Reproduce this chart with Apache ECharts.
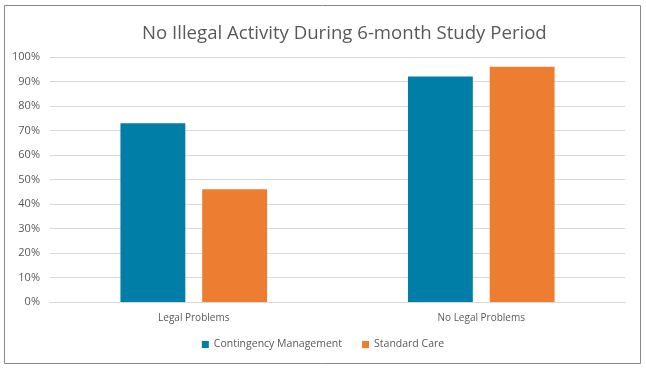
<!DOCTYPE html>
<html><head><meta charset="utf-8">
<script src="https://cdn.jsdelivr.net/npm/echarts@6/dist/echarts.min.js"></script>
<style>html,body{margin:0;padding:0;background:#fff}#c{width:646px;height:368px}</style>
</head><body><div id="c"></div>
<script>
const categories = ['Legal Problems', 'No Legal Problems'];
const contingency = [73, 92];
const standardCare = [46, 96];
const yTicks = [0, 10, 20, 30, 40, 50, 60, 70, 80, 90, 100];
const seriesNames = ['Contingency Management', 'Standard Care'];

const chart = echarts.init(document.getElementById('c'));
const font = "'Open Sans', 'Liberation Sans', sans-serif";
chart.setOption({
  animation: false,
  backgroundColor: '#fff',
  title: {
    text: 'No Illegal Activity During 6-month Study Period',
    left: 137, top: 19,
    textStyle: { fontFamily: font, fontSize: 18.6, fontWeight: 'normal', color: '#595959' }
  },
  legend: {
    data: seriesNames, bottom: 13, left: 'center',
    itemWidth: 7, itemHeight: 7, itemGap: 20,
    icon: 'rect',
    textStyle: { fontFamily: font, fontSize: 10.5, color: '#595959' }
  },
  grid: { left: 50, right: 21, top: 57, bottom: 66 },
  xAxis: {
    type: 'category', data: categories,
    axisLine: { lineStyle: { color: '#d9d9d9' } },
    axisTick: { show: false },
    axisLabel: { fontFamily: font, fontSize: 10, color: '#595959', margin: 11 }
  },
  yAxis: {
    type: 'value', min: yTicks[0], max: yTicks[yTicks.length - 1], interval: 10,
    axisLine: { show: false }, axisTick: { show: false },
    splitLine: { lineStyle: { color: '#d9d9d9' } },
    axisLabel: { fontFamily: font, fontSize: 11, color: '#595959', margin: 10, formatter: v => v + '%' }
  },
  series: [
    { name: seriesNames[0], type: 'bar', data: contingency, itemStyle: { color: '#007EA7' }, barGap: '26%', barCategoryGap: '49%' },
    { name: seriesNames[1], type: 'bar', data: standardCare, itemStyle: { color: '#ED7D31' } }
  ],
  graphic: [{
    type: 'rect', shape: { x: 4.5, y: 5.5, width: 636, height: 358 },
    style: { fill: 'none', stroke: '#888', lineWidth: 1 }, silent: true
  }]
});
</script></body></html>
